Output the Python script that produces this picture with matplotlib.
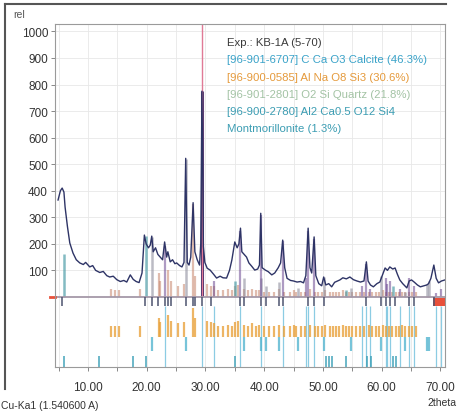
import matplotlib
matplotlib.use("Agg")
import matplotlib.pyplot as plt
from matplotlib.lines import Line2D
from matplotlib.ticker import MultipleLocator, FormatStrFormatter

plt.rcParams["font.family"] = ["Liberation Sans", "DejaVu Sans"]

exp_2theta = [4.9, 5.3, 5.6, 5.9, 6.1, 6.5, 6.9, 7.45, 8.0, 8.6, 9.2, 9.6, 10.3, 10.8,
              11.3, 12.0, 12.6, 13.2, 13.7, 14.3, 14.9, 15.5, 16.1, 16.6, 17.2, 17.7,
              18.2, 18.7, 19.2, 19.6, 19.9, 20.3, 20.6, 20.86, 21.1, 21.5, 21.9, 22.3,
              22.7, 23.05, 23.4, 23.6, 24.0, 24.4, 24.8, 25.1, 25.6, 26.0, 26.35, 26.64,
              26.9, 27.2, 27.5, 27.9, 28.2, 28.6, 29.0, 29.2, 29.41, 29.65, 29.9, 30.3,
              30.8, 31.4, 31.9, 32.5, 33.0, 33.6, 34.1, 34.5, 35.0, 35.4, 35.7, 35.97,
              36.2, 36.6, 37.0, 37.4, 37.9, 38.4, 38.9, 39.2, 39.42, 39.65, 40.2, 40.7,
              41.3, 41.8, 42.4, 42.8, 43.16, 43.5, 43.9, 44.5, 45.0, 45.6, 46.2, 46.7,
              47.1, 47.49, 47.8, 48.1, 48.51, 48.8, 49.3, 49.8, 50.14, 50.5, 51.0, 51.5,
              52.0, 52.5, 52.9, 53.4, 54.0, 54.6, 55.2, 55.8, 56.4, 57.0, 57.41, 57.7,
              58.1, 58.6, 59.2, 59.7, 60.1, 60.6, 61.0, 61.4, 61.9, 62.3, 62.7, 63.1,
              63.6, 64.3, 64.7, 65.1, 65.6, 66.1, 66.6, 67.2, 67.7, 68.0, 68.4, 68.9,
              69.3, 69.7, 70.2, 70.8]
exp_counts = [365, 400, 410, 395, 338, 265, 203, 165, 140, 128, 122, 130, 113, 118,
              100, 92, 96, 80, 75, 78, 65, 58, 62, 56, 83, 66,
              58, 54, 90, 233, 200, 185, 195, 229, 170, 185, 160, 150,
              140, 207, 150, 170, 132, 140, 125, 128, 118, 113, 130, 522,
              130, 120, 150, 355, 170, 140, 120, 200, 775, 190, 130, 108,
              101, 85, 71, 78, 72, 71, 100, 139, 207, 185, 200, 259,
              170, 160, 150, 128, 115, 101, 105, 120, 315, 110, 101, 95,
              83, 90, 110, 128, 214, 110, 70, 62, 60, 56, 58, 53,
              80, 259, 110, 90, 226, 80, 50, 42, 75, 45, 50, 38,
              55, 60, 64, 72, 68, 75, 65, 60, 56, 60, 132, 60,
              45, 38, 50, 56, 80, 109, 100, 113, 105, 109, 85, 64,
              50, 34, 60, 64, 55, 45, 38, 42, 45, 50, 70, 120,
              70, 53, 60, 64]

# phase sticks: position and stick height
calcite_pos = [23.05, 31.4, 35.97, 39.42, 43.16, 47.12, 47.49, 48.51, 56.6, 57.41,
               58.1, 60.7, 61.0, 61.4, 63.1, 64.7, 65.6, 69.2, 70.2]
calcite_h = [190, 60, 250, 310, 210, 70, 250, 220, 40, 125,
             30, 70, 50, 60, 30, 70, 40, 15, 30]
calcite_main_pos = 29.41
calcite_main_h = 1030
calcite_main_meas = 775

quartz_pos = [20.86, 26.64, 36.54, 39.47, 40.29, 42.45, 45.79, 50.14, 54.87, 59.96,
              64.0, 67.74, 68.14]
quartz_h = [225, 520, 70, 70, 40, 55, 35, 75, 35, 80, 20, 50, 60]

albite_pos = [13.87, 14.6, 15.3, 18.9, 22.04, 22.3, 23.6, 24.2, 25.4, 26.4, 27.9, 28.3,
              30.2, 30.9, 31.5, 32.2, 33.0, 33.9, 34.5, 35.0, 35.6, 36.6, 37.3, 37.9,
              38.6, 39.2, 40.0, 40.8, 41.7, 42.5, 43.4, 44.4, 45.0, 45.5, 46.3, 47.0,
              47.8, 48.6, 49.2, 49.8, 50.4, 51.2, 51.7, 52.2, 52.8, 53.4, 54.0, 54.5,
              55.0, 55.6, 56.4, 57.0, 57.8, 58.4, 59.0, 59.6, 60.2, 60.8, 61.2, 61.8,
              62.4, 62.9, 63.5, 64.0, 64.6, 65.2, 65.8]
albite_h = [30, 25, 25, 30, 90, 60, 100, 60, 40, 50, 350, 80,
            50, 40, 40, 25, 25, 30, 25, 40, 45, 30, 25, 30,
            25, 25, 20, 20, 20, 30, 20, 20, 25, 20, 20, 20,
            30, 20, 20, 20, 25, 20, 20, 20, 20, 25, 20, 20,
            20, 20, 20, 20, 20, 20, 20, 20, 25, 20, 20, 20,
            20, 20, 20, 20, 20, 20, 20]
# lower tick length of albite sticks
albite_tick = [40, 40, 40, 40, 70, 55, 80, 60, 50, 55, 110, 70,
               60, 55, 50, 40, 40, 45, 40, 55, 60, 45, 40, 50,
               40, 45, 40, 40, 40, 45, 40, 40, 45, 40, 40, 40,
               45, 40, 40, 40, 45, 40, 40, 40, 40, 45, 40, 40,
               40, 40, 40, 40, 45, 40, 40, 40, 45, 40, 40, 40,
               40, 40, 45, 40, 40, 40, 40]

mont_pos = [5.9, 19.8, 35.0, 54.0, 61.9]
mont_h = [160, 230, 60, 25, 40]
mont_row = [5.9, 11.8, 17.7, 19.8, 35.0, 50.5, 51.0, 51.5, 54.0, 57.5, 58.2, 61.9, 62.4]

# peaks found in the measured pattern
found_pos = [5.6, 19.7, 20.86, 22.0, 23.05, 23.6, 24.2, 26.64, 27.9, 28.3, 29.41, 30.9,
             35.97, 36.5, 39.42, 40.3, 42.5, 43.16, 47.49, 48.51, 50.14, 57.41, 59.96,
             60.7, 61.4, 62.3, 64.7, 65.6, 68.9]

legend_lines = [
    ("Exp.: KB-1A (5-70)", "#3a3a3a"),
    ("[96-901-6707] C Ca O3 Calcite (46.3%)", "#3aa3c9"),
    ("[96-900-0585] Al Na O8 Si3 (30.6%)", "#e59a3c"),
    ("[96-901-2801] O2 Si Quartz (21.8%)", "#a3c3a4"),
    ("[96-900-2780] Al2 Ca0.5 O12 Si4", "#3c9db3"),
    ("Montmorillonite (1.3%)", "#3c9db3"),
]

W, H = 457, 414
fig = plt.figure(figsize=(W / 100, H / 100), dpi=100)
ax = fig.add_axes([55 / W, 1 - 368 / H, 390 / W, 343 / H])

XMIN, XMAX = 4.38, 70.8
YMIN, YMAX = -264, 1028

# upper phase sticks
ax.vlines(albite_pos, 0, albite_h, color="#c8866c", alpha=0.55, lw=1.6)
ax.vlines(quartz_pos, 0, quartz_h, color="#8e8e9e", alpha=0.6, lw=1.8)
ax.vlines(calcite_pos, 0, calcite_h, color="#6c4a92", alpha=0.55, lw=1.6)
ax.vlines(mont_pos, 0, mont_h, color="#4f9ea8", alpha=0.7, lw=1.8)
ax.vlines([calcite_main_pos], 0, [calcite_main_meas], color="#3e2d6a", lw=2.2)
ax.vlines([calcite_main_pos], 0, [calcite_main_h], color="#e07a96", lw=1.0)

# measured curve
ax.plot(exp_2theta, exp_counts, color="#2e3466", lw=1.0)

# zero line
ax.axhline(0, color="#a598a8", lw=1.3)

# lower rows
ax.vlines(found_pos, -35, 0, color="#4e5470", lw=1.3, alpha=0.85)
ax.vlines(calcite_pos + [calcite_main_pos], -264, -35, color="#6fc0dc", lw=0.9, alpha=0.8)
ax.vlines(albite_pos, -150, [-150 + t for t in albite_tick],
          color="#e9a33e", lw=1.6, alpha=0.8)
ax.vlines(quartz_pos, -205, -150, color="#55b6d0", lw=1.6, alpha=0.8)
ax.vlines(mont_row, -264, -222, color="#3a9fb6", lw=1.3, alpha=0.8)

# red marker block at the right end and left end of the zero line
ax.fill_between([68.8, 70.8], -34, -4, color="#e8503a", lw=0)
ax.plot([XMIN - 0.9, XMIN], [0, 0], color="#e8503a", lw=2, clip_on=False)

ax.set_xlim(XMIN, XMAX)
ax.set_ylim(YMIN, YMAX)
ax.set_yticks(range(100, 1001, 100))
ax.set_xticks(range(10, 71, 10))
ax.xaxis.set_major_formatter(FormatStrFormatter("%.2f"))
ax.xaxis.set_minor_locator(MultipleLocator(5))
ax.grid(True, which="both", color="#e8e8e8", lw=0.6)
ax.set_axisbelow(True)
ax.tick_params(axis="both", which="both", direction="out", length=3, width=0.7,
               color="#888888", labelsize=8.5, labelcolor="#333333", pad=2)
ax.tick_params(axis="x", pad=7)
for s in ax.spines.values():
    s.set_color("#9a9a9a")
    s.set_linewidth(0.8)

for i, (txt, col) in enumerate(legend_lines):
    fig.text(227 / W, 1 - (43 + 17.3 * i) / H, txt, color=col, fontsize=8.2,
             va="center", ha="left")

fig.text(13 / W, 1 - 15 / H, "rel", fontsize=7.5, color="#555555", va="center")
fig.text(1 / W, 1 - 406 / H, "Cu-Ka1 (1.540600 A)", fontsize=7.5, color="#333333",
         va="center")
fig.text(456 / W, 1 - 403 / H, "2theta", fontsize=7.5, color="#333333", va="center",
         ha="right")

# outer frame (top and left)
fig.add_artist(Line2D([5 / W, 446 / W], [1 - 5 / H, 1 - 5 / H], color="#555555", lw=1.5))
fig.add_artist(Line2D([5 / W, 5 / W], [1 - 5 / H, 1 - 390 / H], color="#555555", lw=1.5))

fig.savefig("out.png", dpi=100)
